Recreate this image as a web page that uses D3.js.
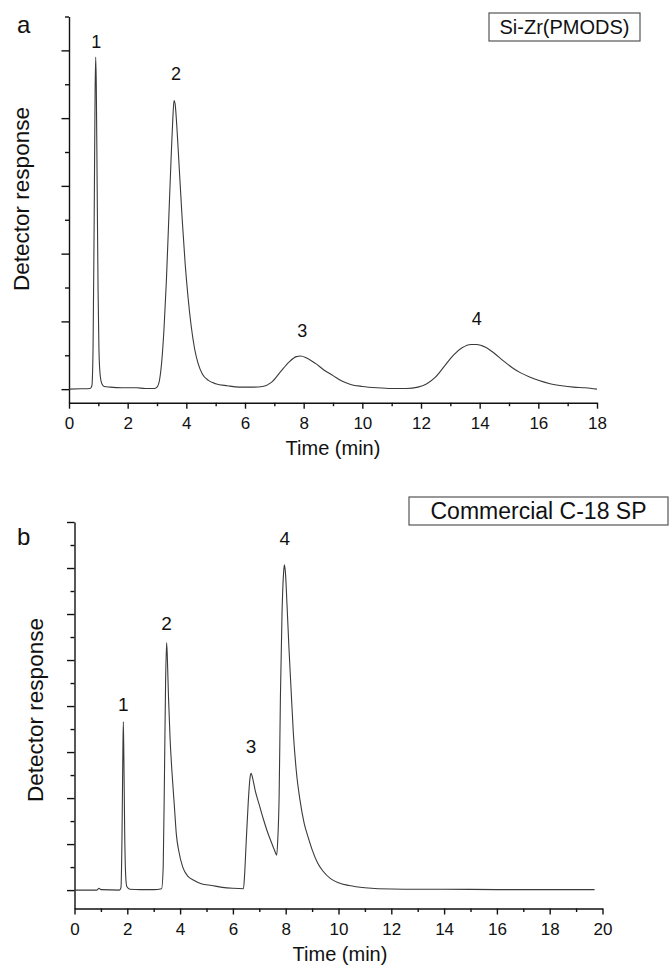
<!DOCTYPE html>
<html>
<head>
<meta charset="utf-8">
<script src="https://cdn.jsdelivr.net/npm/d3@7"></script>
<style>
  html, body { margin: 0; padding: 0; background: #fff; }
  svg text { font-family: "Liberation Sans", Arial, sans-serif; fill: #111; }
</style>
</head>
<body>
<svg id="chart" width="670" height="966"></svg>
<script>
// ---------- DATA ----------
// Panel a: Si-Zr(PMODS)
const timeA = [0,0.4,0.72,0.78,0.82,0.86,0.89,0.91,0.93,0.96,0.99,1.02,1.06,1.12,1.2,1.4,1.8,2.3,2.6,2.9,
  3.0,3.08,3.16,3.24,3.32,3.4,3.48,3.54,3.58,3.62,3.68,3.76,3.86,3.96,4.06,4.16,4.28,4.4,4.55,4.75,5.0,5.4,5.8,6.3,
  6.6,6.9,7.2,7.5,7.75,7.9,8.1,8.4,8.7,9.0,9.3,9.6,10.0,10.5,11.0,11.5,
  11.9,12.2,12.5,12.8,13.1,13.4,13.7,13.9,14.2,14.5,14.8,15.1,15.4,15.7,16.0,16.4,16.8,17.2,17.6,18.0];
const respA = [0,0.005,0.01,0.05,0.6,2.6,4.4,4.9,4.5,3.0,1.5,0.6,0.22,0.08,0.04,0.03,0.02,0.02,0.01,0.01,
  0.03,0.12,0.4,0.9,1.6,2.5,3.4,4.0,4.26,4.2,3.85,3.25,2.5,1.85,1.35,0.95,0.6,0.38,0.22,0.13,0.08,0.05,0.03,0.03,
  0.04,0.1,0.25,0.4,0.48,0.49,0.46,0.38,0.28,0.2,0.12,0.07,0.04,0.02,0.01,0.01,
  0.03,0.08,0.18,0.34,0.5,0.61,0.66,0.66,0.62,0.53,0.42,0.32,0.24,0.18,0.13,0.08,0.05,0.03,0.02,0.0];
const peakLabelsA = ["1","2","3","4"];
const peakTimesA = [0.93, 3.65, 7.95, 13.9];
const peakLabelValA = [5.03, 4.56, 0.77, 0.95];

// Panel b: Commercial C-18 SP
const timeB = [0,0.85,0.93,1.0,1.7,1.76,1.8,1.83,1.85,1.87,1.9,1.94,1.98,2.1,2.5,3.0,
  3.3,3.36,3.41,3.45,3.49,3.52,3.56,3.62,3.7,3.78,3.86,3.95,4.1,4.3,4.5,4.8,5.2,5.6,6.0,6.4,
  6.44,6.5,6.58,6.65,6.69,6.74,6.85,7.0,7.15,7.3,7.45,7.58,7.66,
  7.7,7.75,7.8,7.86,7.92,7.95,7.99,8.05,8.12,8.2,8.29,8.4,8.54,8.7,8.85,9.0,9.2,9.4,9.7,10.0,10.4,11.0,11.5,12.5,14,16,18,19.7];
const respB = [0,0.0,0.04,0.01,0.0,0.05,1.2,2.9,3.66,2.9,1.3,0.3,0.08,0.02,0.01,0.01,
  0.03,0.5,2.6,4.5,5.38,5.0,4.2,3.3,2.5,1.85,1.2,0.85,0.5,0.3,0.22,0.14,0.1,0.06,0.04,0.03,
  0.3,1.0,1.9,2.45,2.54,2.45,2.15,1.85,1.55,1.28,1.05,0.86,0.76,
  1.1,2.0,4.2,6.0,6.9,7.07,6.9,6.2,5.3,4.4,3.41,2.6,1.96,1.45,1.15,0.88,0.6,0.42,0.25,0.16,0.1,0.05,0.03,0.02,0.02,0.01,0.01,0.01];
const peakLabelsB = ["1","2","3","4"];
const peakTimesB = [1.85, 3.49, 6.69, 7.97];
const peakLabelValB = [3.9, 5.65, 2.97, 7.5];

const xTicksA = [0,2,4,6,8,10,12,14,16,18];
const xTicksB = [0,2,4,6,8,10,12,14,16,18,20];
const yTicksA = [0,1,2,3,4,5];
const yTicksB = [0,1,2,3,4,5,6,7,8];

// ---------- DRAW ----------
const svg = d3.select("#chart");

function panel(cfg) {
  const g = svg.append("g");
  const x = d3.scaleLinear().domain(cfg.xDomain).range(cfg.xRange);
  const y = d3.scaleLinear().domain(cfg.yDomain).range(cfg.yRange);

  // x axis minor
  const xMinor = d3.range(cfg.xDomain[0] + 1, cfg.xDomain[1], 2);
  g.append("g").attr("transform", `translate(0,${cfg.yRange[0]})`)
    .call(d3.axisBottom(x).tickValues(xMinor).tickSize(3.5).tickSizeOuter(0).tickFormat(""))
    .call(a => a.select(".domain").remove());
  // x axis major
  const xa = g.append("g").attr("transform", `translate(0,${cfg.yRange[0]})`)
    .call(d3.axisBottom(x).tickValues(cfg.xTicks).tickSize(6).tickSizeOuter(0).tickPadding(cfg.tickPad));
  xa.selectAll("text").style("font-size", cfg.tickFont + "px");
  // y axis minor
  const yMinor = cfg.yTicks.map(v => v + 0.5).filter(v => v <= cfg.yDomain[1] + 1e-9);
  g.append("g").attr("transform", `translate(${cfg.xRange[0]},0)`)
    .call(d3.axisLeft(y).tickValues(yMinor).tickSize(4).tickSizeOuter(0).tickFormat(""))
    .call(a => a.select(".domain").remove());
  g.append("g").attr("transform", `translate(${cfg.xRange[0]},0)`)
    .call(d3.axisLeft(y).tickValues(cfg.yTicks).tickSize(7.5).tickSizeOuter(0).tickFormat(""));
  g.selectAll(".domain, .tick line").attr("stroke", "#111").attr("stroke-width", 1.4);

  // trace
  const pts = cfg.t.map((t, i) => [t, cfg.v[i]]);
  g.append("path").datum(pts)
    .attr("fill", "none").attr("stroke", "#3a3a3a").attr("stroke-width", 1.1)
    .attr("d", d3.line().x(d => x(d[0])).y(d => y(d[1])).curve(d3.curveMonotoneX));

  // peak labels
  g.selectAll("text.pk").data(cfg.labels).join("text").attr("class", "pk")
    .attr("x", (d, i) => x(cfg.labelT[i])).attr("y", (d, i) => y(cfg.labelV[i]))
    .attr("text-anchor", "middle").style("font-size", cfg.pkFont + "px").text(d => d);

  // axis titles
  g.append("text").attr("x", cfg.xTitle[0]).attr("y", cfg.xTitle[1]).attr("text-anchor", "middle")
    .style("font-size", cfg.titleFont + "px").text("Time (min)");
  g.append("text").attr("transform", `translate(${cfg.yTitle[0]},${cfg.yTitle[1]}) rotate(-90)`)
    .attr("text-anchor", "middle").style("font-size", cfg.yTitleFont + "px").text("Detector response");

  // panel letter
  g.append("text").attr("x", cfg.letterPos[0]).attr("y", cfg.letterPos[1])
    .style("font-size", "24px").text(cfg.letter);

  // legend box
  const lb = cfg.legendBox;
  g.append("rect").attr("x", lb[0]).attr("y", lb[1]).attr("width", lb[2]).attr("height", lb[3])
    .attr("fill", "none").attr("stroke", "#555").attr("stroke-width", 1.2);
  g.append("text").attr("x", lb[0] + lb[2] / 2).attr("y", lb[1] + lb[3] / 2 + cfg.legendFont * 0.36)
    .attr("text-anchor", "middle").style("font-size", cfg.legendFont + "px").text(cfg.legend);
}

panel({
  xDomain: [0, 18], xRange: [69, 597], yDomain: [-0.2, 5.5], yRange: [402.7, 16.5],
  xTicks: xTicksA, yTicks: yTicksA, t: timeA, v: respA,
  labels: peakLabelsA, labelT: peakTimesA, labelV: peakLabelValA,
  tickFont: 17, tickPad: 8, pkFont: 18, titleFont: 20, yTitleFont: 22.5,
  xTitle: [333, 455], yTitle: [29, 199], letter: "a", letterPos: [17, 33],
  legendBox: [489, 13, 151, 28], legend: "Si-Zr(PMODS)", legendFont: 20
});

panel({
  xDomain: [0, 20], xRange: [74.5, 602.5], yDomain: [-0.4, 8], yRange: [908.5, 522],
  xTicks: xTicksB, yTicks: yTicksB, t: timeB, v: respB,
  labels: peakLabelsB, labelT: peakTimesB, labelV: peakLabelValB,
  tickFont: 17, tickPad: 8, pkFont: 19, titleFont: 20, yTitleFont: 22.5,
  xTitle: [340, 961], yTitle: [43, 710], letter: "b", letterPos: [17, 545],
  legendBox: [409, 497, 259, 28], legend: "Commercial C-18 SP", legendFont: 23
});
</script>
</body>
</html>
